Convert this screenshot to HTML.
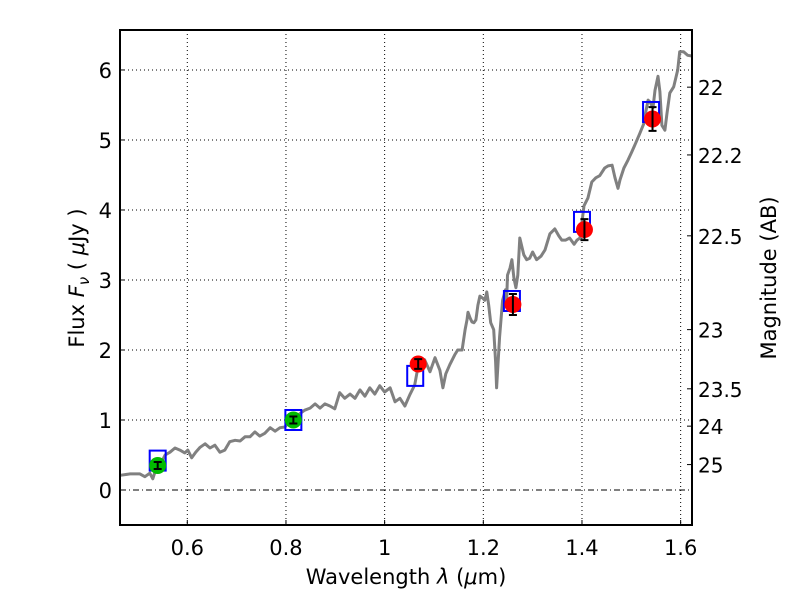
<!DOCTYPE html>
<html><head><meta charset="utf-8"><style>
body{margin:0;background:#fff;}
svg text{font-family:"DejaVu Sans","Liberation Sans",sans-serif;fill:#000;}
</style></head><body>
<svg id="chart" width="800" height="600" viewBox="0 0 800 600" xmlns="http://www.w3.org/2000/svg">
<rect width="800" height="600" fill="#fff"/>
<g id="grid"></g>
<g id="plot"></g>
<g id="axes"></g>
</svg>
<script>
const specWave=[.464,.484,.504,.514,.524,.530,.536,.545,.555,.565,.575,.585,.595,.601,.609,.617,.626,.636,.646,.656,.666,.676,.686,.697,.707,.717,.727,.737,.747,.757,.768,.778,.788,.798,.808,.818,.828,.838,.849,.859,.869,.879,.889,.899,.909,.919,.930,.940,.950,.960,.970,.980,.990,1.000,1.011,1.021,1.031,1.041,1.051,1.061,1.071,1.081,1.092,1.102,1.112,1.118,1.124,1.132,1.142,1.148,1.157,1.163,1.167,1.169,1.173,1.177,1.181,1.185,1.189,1.193,1.199,1.203,1.207,1.211,1.215,1.221,1.225,1.227,1.233,1.239,1.245,1.247,1.249,1.254,1.258,1.262,1.266,1.270,1.274,1.282,1.288,1.294,1.300,1.308,1.317,1.325,1.335,1.345,1.353,1.359,1.367,1.375,1.384,1.390,1.396,1.404,1.412,1.420,1.428,1.436,1.446,1.453,1.461,1.467,1.473,1.477,1.485,1.493,1.501,1.509,1.517,1.525,1.529,1.534,1.538,1.544,1.548,1.554,1.558,1.562,1.568,1.572,1.578,1.586,1.594,1.598,1.606,1.614,1.623];
const specFlux=[.21,.23,.23,.19,.24,.16,.29,.36,.50,.54,.60,.57,.53,.57,.46,.54,.61,.66,.60,.64,.54,.57,.69,.71,.70,.76,.76,.83,.77,.81,.89,.84,.89,.90,1.00,1.00,1.09,1.14,1.17,1.23,1.17,1.23,1.20,1.16,1.39,1.31,1.37,1.31,1.43,1.34,1.46,1.37,1.49,1.40,1.46,1.26,1.31,1.20,1.36,1.50,1.89,1.86,1.69,1.89,1.71,1.46,1.66,1.79,1.93,2.00,2.00,2.29,2.43,2.54,2.46,2.40,2.39,2.43,2.64,2.77,2.74,2.71,2.83,2.64,2.39,2.29,1.83,1.46,2.19,2.71,2.86,2.64,3.07,3.17,3.29,3.03,2.89,3.07,3.60,3.36,3.29,3.31,3.40,3.29,3.34,3.43,3.66,3.73,3.63,3.57,3.57,3.60,3.51,3.57,3.60,4.06,4.17,4.40,4.46,4.49,4.60,4.63,4.64,4.46,4.31,4.43,4.60,4.71,4.83,4.96,5.09,5.23,5.39,5.57,5.54,5.46,5.71,5.91,5.69,5.21,5.14,5.36,5.67,5.76,6.00,6.26,6.26,6.21,6.20];
const greenWave=[0.540,0.815];
const greenFlux=[0.35,1.00];
const greenErr=[0.05,0.05];
const redWave=[1.068,1.260,1.405,1.543];
const redFlux=[1.80,2.65,3.72,5.30];
const redErr=[0.07,0.15,0.15,0.17];
const boxWave=[0.540,0.815,1.062,1.258,1.400,1.540];
const boxFlux=[0.42,1.00,1.63,2.70,3.83,5.40];
const xTicks=[0.6,0.8,1,1.2,1.4,1.6];
const yTicks=[0,1,2,3,4,5,6];
const magTicks=[22,22.2,22.5,23,23.5,24,25];

const L=120,R=692,T=30,B=525,xMin=0.4636,xMax=1.623,yMin=-0.5,yMax=6.571;
const sx=v=>L+(v-xMin)/(xMax-xMin)*(R-L);
const sy=v=>B-(v-yMin)/(yMax-yMin)*(B-T);
const NS="http://www.w3.org/2000/svg";
function mk(tag,attrs,parent){const e=document.createElementNS(NS,tag);for(const k in attrs)e.setAttribute(k,attrs[k]);parent.appendChild(e);return e;}
const grid=document.getElementById('grid'),plot=document.getElementById('plot'),axes=document.getElementById('axes');

xTicks.forEach(v=>{const x=sx(v);
 const g=mk('line',{x1:x,x2:x,y1:T,y2:B,stroke:'#000','stroke-width':1,'stroke-dasharray':'1,3'},grid);
 
 
 const t=mk('line',{x1:x,x2:x,y1:B,y2:B-5,stroke:'#000'},axes);
 
 
 const lb=mk('text',{x:x,y:B+30,'font-size':21,'text-anchor':'middle'},axes);lb.textContent=String(v);
 
 
});
yTicks.forEach(v=>{const y=sy(v);
 const g=mk('line',{x1:L,x2:R,y1:y,y2:y,stroke:'#000','stroke-width':1,'stroke-dasharray':v===0?'6,3,1,3':'1,3'},grid);
 
 
 const t=mk('line',{x1:L,x2:L+5,y1:y,y2:y,stroke:'#000'},axes);
 
 
 const lb=mk('text',{x:L-8,y:y+8,'font-size':21,'text-anchor':'end'},axes);lb.textContent=String(v);
 
 
});
magTicks.forEach(m=>{const f=Math.pow(10,(23.9-m)/2.5);const y=sy(f);
 const t=mk('line',{x1:R-5,x2:R,y1:y,y2:y,stroke:'#000'},axes);
 
 
 const lb=mk('text',{x:R+6,y:y+8,'font-size':20},axes);lb.textContent=String(m);
 
 
});

const pts=specWave.map((w,i)=>sx(w).toFixed(1)+','+sy(specFlux[i]).toFixed(1)).join(' ');
const sp=mk('polyline',{points:pts,fill:'none',stroke:'#808080','stroke-width':3,'stroke-linejoin':'round'},plot);



boxWave.forEach((w,i)=>{
 const b=mk('rect',{x:sx(w)-8,y:sy(boxFlux[i])-10,width:16,height:20,fill:'none',stroke:'#0000ff','stroke-width':2},plot);
 
 
});
function pointSet(ws,fs,es,color,name){
 ws.forEach((w,i)=>{const x=sx(w),y=sy(fs[i]);
  const c=mk('circle',{cx:x,cy:y,r:8.5,fill:color},plot);
  
  
  const y1=sy(fs[i]+es[i]),y2=sy(fs[i]-es[i]);
  const e=mk('path',{d:`M${x},${y1}V${y2}M${x-4},${y1}H${x+4}M${x-4},${y2}H${x+4}`,stroke:'#000','stroke-width':2,fill:'none'},plot);
  
  
 });
}
pointSet(greenWave,greenFlux,greenErr,'#00bb00','green-photometry-point');
pointSet(redWave,redFlux,redErr,'#ff0000','red-photometry-point');

const fr=mk('rect',{x:L,y:T,width:R-L,height:B-T,fill:'none',stroke:'#000','stroke-width':2},axes);


</script>
<svg style="position:absolute;left:0;top:0" width="800" height="600">
<text x="406" y="584" font-size="21" text-anchor="middle" font-family="DejaVu Sans, sans-serif">Wavelength  <tspan font-style="italic">λ</tspan> (<tspan font-style="italic">μ</tspan>m)</text>
<text transform="translate(84,278) rotate(-90)" font-size="21" text-anchor="middle" font-family="DejaVu Sans, sans-serif">Flux  <tspan font-style="italic">F</tspan><tspan font-style="italic" font-size="15" dy="5">ν</tspan><tspan dy="-5">  ( </tspan><tspan font-style="italic">μ</tspan>Jy )</text>
<text transform="translate(776,278) rotate(-90)" font-size="21" text-anchor="middle" font-family="DejaVu Sans, sans-serif">Magnitude (AB)</text>
</svg>
</body></html>
